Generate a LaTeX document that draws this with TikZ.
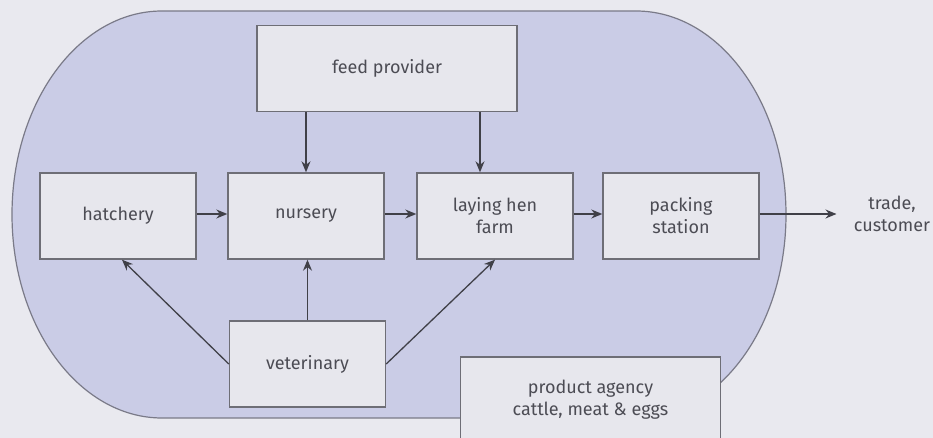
\documentclass[tikz,border=0pt]{standalone}
\usepackage{fontspec}
\setmainfont{Fira Sans}
\usetikzlibrary{arrows.meta,positioning}
\definecolor{cPaper}{HTML}{E9E9EF}
\definecolor{cLilacF}{HTML}{CACCE6}
\definecolor{cLilacD}{HTML}{7A7A88}
\definecolor{cBoxF}{HTML}{E7E7ED}
\definecolor{cBoxD}{HTML}{6E6E76}
\definecolor{cText}{HTML}{4C4C54}
\definecolor{cArrow}{HTML}{404048}
\tikzset{
  stage/.style  = {draw=cBoxD, fill=cBoxF, line width=0.7pt, text=cText,
                   align=center, inner sep=2pt,
                   minimum width=78pt, minimum height=43pt},
  widestage/.style = {stage, minimum width=130pt},
  flow/.style   = {cArrow, line width=0.65pt, -{Stealth[length=5.5pt,width=4.5pt]}},
  region/.style = {draw=cLilacD, fill=cLilacF, line width=0.6pt},
}

\begin{document}
\begin{tikzpicture}[x=0.5pt, y=-0.5pt, font=\fontsize{9}{11}\selectfont]
  \useasboundingbox[fill=cPaper] (0,0) rectangle (933,438);
  \clip (0,0) rectangle (933,438);
  % shaded region
  \draw[region] (162,11) -- (636,11)
    arc[start angle=-90, end angle=90, x radius=150, y radius=203.5]
    -- (162,418)
    arc[start angle=90, end angle=270, x radius=150, y radius=203.5] -- cycle;
  % chain
  \node[stage] (hatch) at (118,216) {hatchery};
  \node[stage] (nurs)  at (306,216) {nursery};
  \node[stage] (lay)   at (495,216) {laying hen\\farm};
  \node[stage] (pack)  at (681,216) {packing\\station};
  \node[widestage] (feed) at (387,68.5) {feed provider};
  \node[stage] (vet)   at (307.5,364) {veterinary};
  \node[widestage] (agency) at (590.5,400) {product agency\\cattle, meat \& eggs};
  \node[text=cText, align=center, inner xsep=8.5pt] (trade) at (892,214) {trade,\\customer};
  % flows
  \draw[flow] ([yshift=1pt]hatch.east) -- ([yshift=1pt]nurs.west);
  \draw[flow] ([yshift=1pt]nurs.east) -- ([yshift=1pt]lay.west);
  \draw[flow] ([yshift=1pt]lay.east) -- ([yshift=1pt]pack.west);
  \draw[flow] ([yshift=1pt]pack.east) -- ([yshift=1pt]pack.east -| trade.west);
  \draw[flow] (feed.south -| nurs.north) -- (nurs.north);
  \draw[flow] ([xshift=-7.5pt]feed.south -| lay.north) -- ([xshift=-7.5pt]lay.north);
  \draw[flow] (vet.west) -- ([xshift=2pt]hatch.south);
  \draw[flow] (vet.north) -- (vet.north |- nurs.south);
  \draw[flow] (vet.east) -- (lay.south);
\end{tikzpicture}
\end{document}
